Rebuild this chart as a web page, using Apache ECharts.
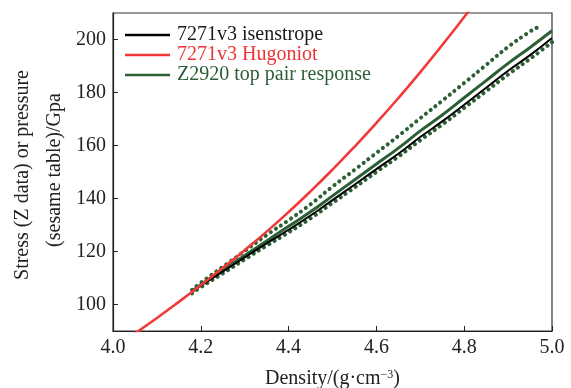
<!DOCTYPE html>
<html>
<head>
<meta charset="utf-8">
<script src="https://cdn.jsdelivr.net/npm/echarts@6/dist/echarts.min.js"></script>
<style>html,body{margin:0;padding:0;background:#fff}#c{width:571px;height:388px}</style>
</head>
<body>
<div id="c"></div>
<script>
// Hugoniot (red)
var hugDensity = [4.0, 4.05, 4.1, 4.15, 4.2, 4.25, 4.3, 4.35, 4.4, 4.45, 4.5, 4.55, 4.6, 4.65, 4.7, 4.75, 4.8, 4.85];
var hugPressure = [83.5, 89.1, 94.9, 101.0, 107.3, 113.8, 120.5, 127.5, 134.9, 142.7, 150.9, 159.5, 168.5, 177.9, 187.7, 197.9, 208.5, 219.5];
// Isentrope and Z data
var density = [4.18, 4.2, 4.25, 4.3, 4.35, 4.4, 4.45, 4.5, 4.55, 4.6, 4.65, 4.7, 4.75, 4.8, 4.85, 4.9, 4.95, 5.0];
var isentrope = [104.7, 107.1, 112.4, 117.8, 123.1, 128.2, 133.6, 139.4, 145.2, 151.1, 156.9, 163.2, 169.1, 175.4, 181.8, 188.2, 194.1, 200.6];
var zResponse = [105.0, 107.5, 113.0, 118.5, 124.0, 129.5, 135.0, 141.0, 147.0, 153.0, 159.0, 165.5, 171.5, 178.0, 184.5, 191.0, 197.0, 203.3];
var upperDensity = [4.18, 4.2, 4.25, 4.3, 4.35, 4.4, 4.45, 4.5, 4.55, 4.6, 4.65, 4.7, 4.75, 4.8, 4.85, 4.9, 4.95, 4.966];
var zUpper = [105.5, 108.2, 114.2, 120.2, 126.2, 131.8, 137.8, 144.5, 150.8, 157.2, 163.6, 170.3, 176.9, 183.6, 190.4, 197.2, 203.0, 204.5];
var zLower = [104.2, 106.5, 111.7, 117.0, 122.2, 127.2, 132.5, 138.3, 144.1, 150.0, 155.8, 162.0, 167.9, 174.2, 180.5, 186.8, 192.7, 199.0];
var xTicks = [4.0, 4.2, 4.4, 4.6, 4.8, 5.0];
var yTicks = [100, 120, 140, 160, 180, 200];
var names = ['7271v3 isenstrope', '7271v3 Hugoniot', 'Z2920 top pair response'];

function zip(a, b) { return a.map(function (v, i) { return [v, b[i]]; }); }

var FONT = '"Liberation Serif", "DejaVu Serif", serif';
var GREEN = '#2c5f35';
var chart = echarts.init(document.getElementById('c'), null, {renderer: 'canvas'});
chart.setOption({
  animation: false,
  backgroundColor: '#fff',
  textStyle: {fontFamily: FONT},
  grid: {left: 113, right: 19, top: 13, bottom: 57, show: true, borderColor: '#333', borderWidth: 1.2, containLabel: false, outerBoundsMode: 'none'},
  legend: {
    orient: 'vertical', left: 120, top: 20, itemGap: 0, itemWidth: 45, itemHeight: 2.5, icon: 'rect',
    textStyle: {fontSize: 20, fontFamily: FONT, padding: [0, 0, 0, 2]},
    data: [
      {name: names[0], textStyle: {color: '#1a1a1a'}},
      {name: names[1], textStyle: {color: '#ee3333'}},
      {name: names[2], textStyle: {color: GREEN}}
    ]
  },
  xAxis: {
    type: 'value', min: 4.0, max: 5.0, interval: 0.2,
    axisLine: {lineStyle: {color: '#222', width: 1.2}},
    axisTick: {inside: true, length: 5, lineStyle: {color: '#222'}},
    splitLine: {show: false},
    axisLabel: {fontSize: 20, color: '#222', margin: 7, fontFamily: FONT, formatter: function (v) { return v.toFixed(1); }},
    name: 'Density/(g·cm{sup|−3})', nameLocation: 'middle', nameGap: 38,
    nameTextStyle: {fontSize: 20, color: '#222', fontFamily: FONT, rich: {sup: {fontSize: 12, verticalAlign: 'top', lineHeight: 12, fontFamily: FONT, color: '#222'}}}
  },
  yAxis: {
    type: 'value', min: 90, max: 210,
    axisLine: {show: true, lineStyle: {color: '#222', width: 1.2}},
    axisTick: {show: true, inside: true, length: 5, lineStyle: {color: '#222'}, customValues: yTicks},
    splitLine: {show: false},
    axisLabel: {fontSize: 20, color: '#222', margin: 7, fontFamily: FONT, customValues: yTicks}
  },
  graphic: [
    {type: 'text', x: 23, y: 175, rotation: Math.PI / 2, style: {text: 'Stress (Z data) or pressure', font: '20px ' + FONT, fill: '#222', align: 'center', verticalAlign: 'middle'}},
    {type: 'text', x: 55, y: 170, rotation: Math.PI / 2, style: {text: '(sesame table)/Gpa', font: '20px ' + FONT, fill: '#222', align: 'center', verticalAlign: 'middle'}}
  ],
  series: [
    {name: names[1], type: 'line', data: zip(hugDensity, hugPressure), showSymbol: false, symbol: 'none', smooth: true, lineStyle: {color: '#f03a3a', width: 2.6}, itemStyle: {color: '#f03a3a'}, z: 5},
    {name: 'upper', type: 'line', data: zip(upperDensity, zUpper), showSymbol: false, symbol: 'none', smooth: true, lineStyle: {color: GREEN, width: 4, type: [0.1, 6], cap: 'round'}, z: 3},
    {name: 'lower', type: 'line', data: zip(density, zLower), showSymbol: false, symbol: 'none', smooth: true, lineStyle: {color: GREEN, width: 4, type: [0.1, 6], cap: 'round'}, z: 3},
    {name: names[2], type: 'line', data: zip(density, zResponse), showSymbol: false, symbol: 'none', smooth: true, lineStyle: {color: GREEN, width: 3}, itemStyle: {color: GREEN}, z: 4},
    {name: names[0], type: 'line', data: zip(density, isentrope), showSymbol: false, symbol: 'none', smooth: true, lineStyle: {color: '#000', width: 2}, itemStyle: {color: '#000'}, z: 4}
  ]
});
</script>
</body>
</html>
